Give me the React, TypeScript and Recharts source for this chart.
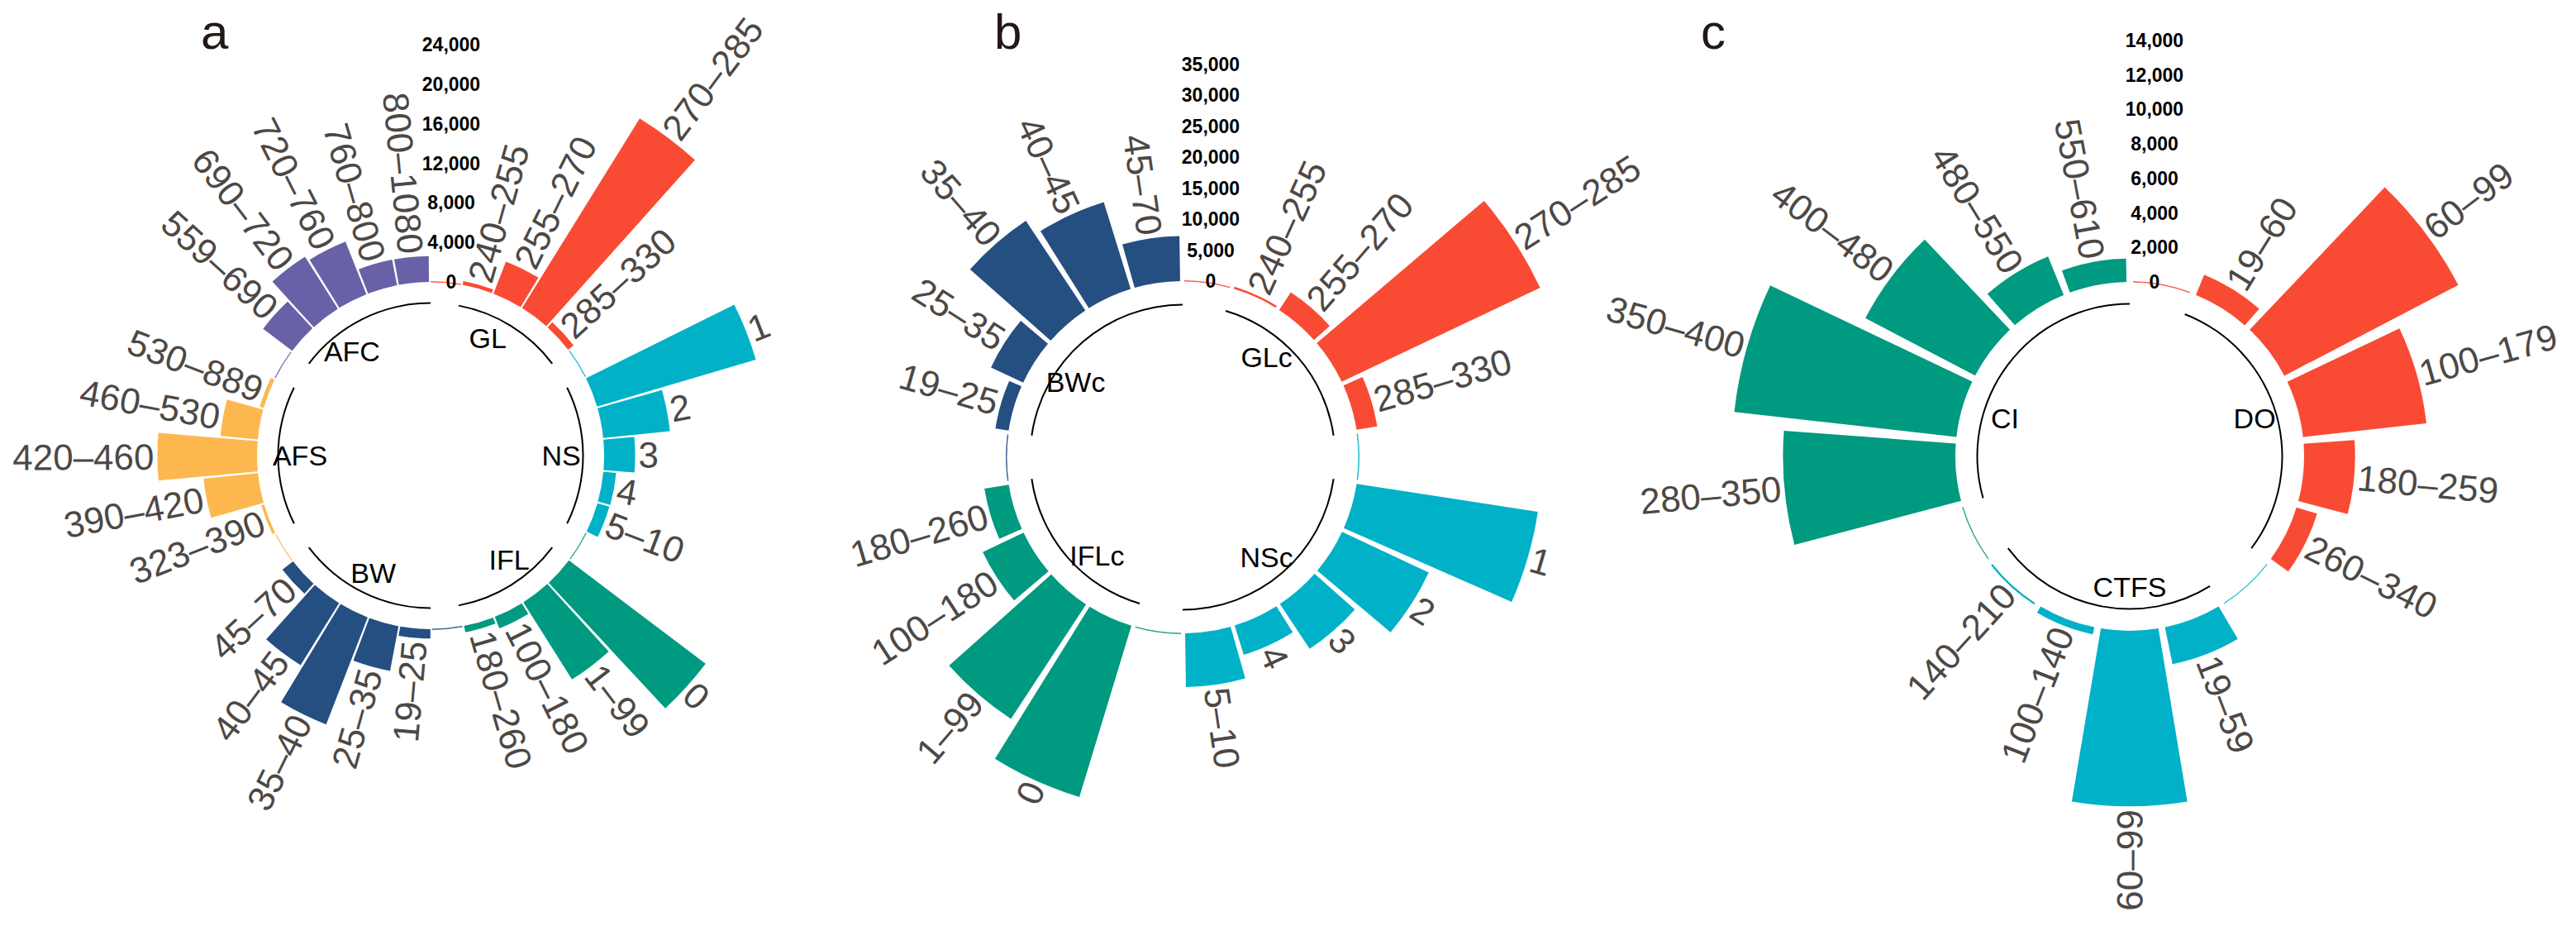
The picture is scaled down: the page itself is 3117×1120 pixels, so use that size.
import React from 'react';
import { RadialBarChart, RadialBar, PolarAngleAxis, PolarRadiusAxis, Cell, Sector, PieChart, Pie } from 'recharts';

const RADIAN = Math.PI / 180;
const FONT = '"Liberation Sans", Arial, Helvetica, sans-serif';

// colours shared by the three panels
const RED = '#F94B34';
const CYAN = '#00B1C8';
const GREEN = '#009A80';
const NAVY = '#254E81';
const YELLOW = '#FCB84F';
const PURPLE = '#6961A7';

// panel a
const aGroups = ['GL', 'NS', 'IFL', 'BW', 'AFS', 'AFC'];
const aClasses = [
  ['240–255', '255–270', '270–285', '285–330'],
  ['1', '2', '3', '4', '5–10'],
  ['0', '1–99', '100–180', '180–260'],
  ['19–25', '25–35', '35–40', '40–45', '45–70'],
  ['323–390', '390–420', '420–460', '460–530', '530–889'],
  ['559–690', '690–720', '720–760', '760–800', '800–1080'],
];
const aValues = [
  [400, 3480, 22560, 700],
  [16750, 6780, 3140, 1300, 1250],
  [17340, 9230, 1250, 660],
  [950, 4610, 11610, 7380, 1360],
  [300, 5520, 10080, 3800, 420],
  [3690, 6230, 5720, 2640, 2610],
];
const aTicks = [0, 4000, 8000, 12000, 16000, 20000, 24000];
const aColors = { GL: RED, NS: CYAN, IFL: GREEN, BW: NAVY, AFS: YELLOW, AFC: PURPLE };

// panel b
const bGroups = ['GLc', 'NSc', 'IFLc', 'BWc'];
const bClasses = [
  ['240–255', '255–270', '270–285', '285–330'],
  ['1', '2', '3', '4', '5–10'],
  ['0', '1–99', '100–180', '180–260'],
  ['19–25', '25–35', '35–40', '40–45', '45–70'],
];
const bValues = [
  [350, 3410, 35500, 3380],
  [29640, 15470, 8700, 4980, 8680],
  [28930, 22130, 7300, 3980],
  [2160, 5750, 17400, 14700, 7300],
];
const bTicks = [0, 5000, 10000, 15000, 20000, 25000, 30000, 35000];
const bColors = { GLc: RED, NSc: CYAN, IFLc: GREEN, BWc: NAVY };

// panel c
const cGroups = ['DO', 'CTFS', 'CI'];
const cClasses = [
  ['19–60', '60–99', '100–179', '180–259', '260–340'],
  ['19–59', '60–99', '100–140', '140–210'],
  ['280–350', '350–400', '400–480', '480–550', '550–610'],
];
const cValues = [
  [1270, 11380, 7200, 2960, 1250],
  [2180, 10180, 420, 110],
  [10000, 12970, 7190, 2410, 1360],
];
const cTicks = [0, 2000, 4000, 6000, 8000, 10000, 12000, 14000];
const cColors = { DO: RED, CTFS: CYAN, CI: GREEN };

// where the group names sit inside the ring (degrees clockwise from 12 o'clock)
const aNameAngles = [26, 90, 143, 206, 270, 323];
const bNameAngles = [40, 140, 221, 305];
const cNameAngles = [73, 180, 287];

// one empty slot in front of every group, like the usual circular barplot
const buildRows = (groups, classes, values) => {
  const rows = [];
  groups.forEach((g, i) => {
    rows.push({ key: `gap-${g}`, label: '', value: 0, group: g, gap: true });
    classes[i].forEach((c, j) => {
      rows.push({ key: `${g}-${c}`, label: c, value: values[i][j], group: g, gap: false });
    });
  });
  return rows;
};

const buildRing = (groups, classes) => {
  const ring = [];
  groups.forEach((g, i) => {
    ring.push({ name: '', value: 1, gap: true, gi: i });
    ring.push({ name: g, value: classes[i].length, gap: false, gi: i });
  });
  return ring;
};

const BarShape = (props) => {
  const { cx, cy, innerRadius, outerRadius, startAngle, endAngle, fill, payload } = props;
  if (payload && payload.gap) {
    return (
      <Sector cx={cx} cy={cy} innerRadius={innerRadius} outerRadius={innerRadius + 0.5}
        startAngle={startAngle} endAngle={endAngle} fill="none" stroke={fill} strokeWidth={0.8} />
    );
  }
  const mid = (startAngle + endAngle) / 2;
  const theta = (((90 - mid) % 360) + 360) % 360; // clockwise from 12 o'clock
  const r = outerRadius + 4;
  const x = cx + r * Math.cos(-mid * RADIAN);
  const y = cy + r * Math.sin(-mid * RADIAN);
  const flip = theta >= 180;
  const rot = flip ? theta - 270 : theta - 90;
  return (
    <g>
      <Sector cx={cx} cy={cy} innerRadius={innerRadius} outerRadius={outerRadius}
        startAngle={startAngle} endAngle={endAngle} fill={fill} />
      <text x={x} y={y} transform={`rotate(${rot} ${x} ${y})`} textAnchor={flip ? 'end' : 'start'}
        dominantBaseline="central" fontFamily={FONT} fontSize={44} fill="#4D4845">
        {payload.label}
      </text>
    </g>
  );
};

const renderTick = (p, dx) => (
  <text x={p.x + dx} y={p.y} textAnchor="middle" dominantBaseline="central"
    fontFamily={FONT} fontWeight="bold" fontSize={23} fill="#000">
    {Number(p.payload.value).toLocaleString('en-US')}
  </text>
);

const makeGroupLabel = (angles) => (p) => {
  const entry = p.payload && p.payload.name !== undefined ? p.payload : p;
  if (!entry.name) return null;
  const a = angles[entry.gi];
  const r = 158;
  const x = p.cx + r * Math.sin(a * RADIAN);
  const y = p.cy - r * Math.cos(a * RADIAN);
  return (
    <text x={x} y={y} textAnchor="middle" dominantBaseline="central" fontFamily={FONT} fontSize={34} fill="#000">
      {entry.name}
    </text>
  );
};

const W = 1400;
const H = 1120;
const NO_MARGIN = { top: 0, right: 0, bottom: 0, left: 0 };

const Panel = ({ groups, classes, values, ticks, colors, nameAngles, centerX, cy, inner, outer, tickDx }) => {
  const rows = buildRows(groups, classes, values);
  const ring = buildRing(groups, classes);
  const cx = W / 2;
  // the band of the first category starts one slot before 12 o'clock, so turn by one slot
  const slot = 360 / rows.length;
  return (
    <div style={{ position: 'absolute', left: centerX - cx, top: 0, width: W, height: H }}>
      <div style={{ position: 'absolute', left: 0, top: 0 }}>
        <PieChart width={W} height={H} margin={NO_MARGIN}>
          <Pie data={ring} dataKey="value" nameKey="name" cx={cx} cy={cy} innerRadius={183.5} outerRadius={185.5}
            startAngle={90} endAngle={-270} stroke="none" isAnimationActive={false}
            label={makeGroupLabel(nameAngles)} labelLine={false}>
            {ring.map((s, i) => <Cell key={i} fill={s.gap ? 'transparent' : '#000'} />)}
          </Pie>
        </PieChart>
      </div>
      <div style={{ position: 'absolute', left: 0, top: 0 }}>
        <RadialBarChart width={W} height={H} cx={cx} cy={cy} innerRadius={inner} outerRadius={outer}
          startAngle={90 - slot} endAngle={-270 - slot} layout="centric" data={rows} barCategoryGap="5%" margin={NO_MARGIN}>
          <PolarAngleAxis type="category" dataKey="key" tick={false} axisLine={false} tickLine={false} />
          <PolarRadiusAxis type="number" domain={[0, ticks[ticks.length - 1]]} allowDataOverflow
            ticks={ticks} tickCount={ticks.length} angle={90} axisLine={false}
            tick={(p) => renderTick(p, tickDx)} />
          <RadialBar dataKey="value" isAnimationActive={false} shape={BarShape}>
            {rows.map((r) => <Cell key={r.key} fill={colors[r.group]} />)}
          </RadialBar>
        </RadialBarChart>
      </div>
    </div>
  );
};

const letterStyle = {
  position: 'absolute', top: 9, fontFamily: FONT, fontSize: 60, lineHeight: 1, color: '#231815',
};

export default function App() {
  return (
    <div style={{ position: 'absolute', left: 0, top: 0, width: 3117, height: 1120, overflow: 'hidden', background: '#fff' }}>
      <Panel groups={aGroups} classes={aClasses} values={aValues} ticks={aTicks} colors={aColors} nameAngles={aNameAngles}
        centerX={521} cy={551} inner={210} outer={497} tickDx={25} />
      <Panel groups={bGroups} classes={bClasses} values={bValues} ticks={bTicks} colors={bColors} nameAngles={bNameAngles}
        centerX={1430.5} cy={553} inner={213} outer={475} tickDx={34} />
      <Panel groups={cGroups} classes={cClasses} values={cValues} ticks={cTicks} colors={cColors} nameAngles={cNameAngles}
        centerX={2577} cy={552} inner={211} outer={503} tickDx={30} />
      <div style={{ ...letterStyle, left: 243 }}>a</div>
      <div style={{ ...letterStyle, left: 1203 }}>b</div>
      <div style={{ ...letterStyle, left: 2058 }}>c</div>
    </div>
  );
}
